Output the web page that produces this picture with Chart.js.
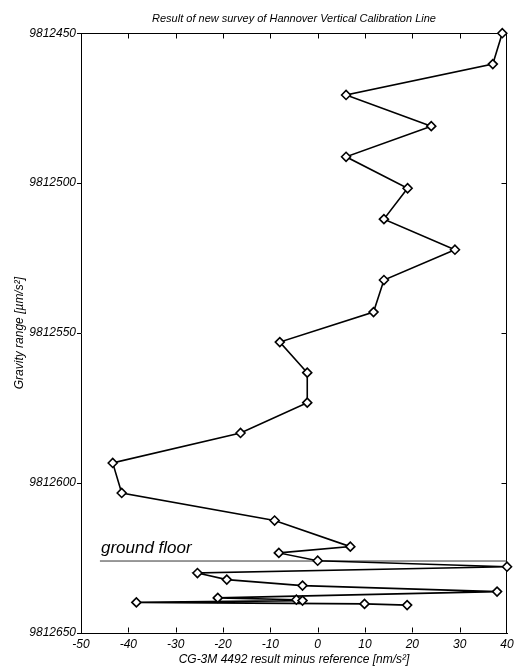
<!DOCTYPE html>
<html lang="en">
<head>
<meta charset="UTF-8">
<title>Hannover Vertical Calibration Line</title>
<script src="https://cdn.jsdelivr.net/npm/chart.js"></script>
<style>
  body { margin: 0; background: #fff; }
  canvas { display: block; }
</style>
</head>
<body>
<canvas id="chart" width="515" height="668"></canvas>
<script>
  // CG-3M 4492 result minus reference [nm/s^2], stations from top to bottom
  const deviation = [39, 37, 6, 24, 6, 19, 14, 29, 14, 11.8, -8, -2.2, -2.2, -16.3, -43.3, -41.4,
    -9.1, 6.9, -8.2, 0, 40, -25.4, -19.2, -3.2, 37.9, -21.1, -4.5, -3.2, -38.3, 9.9, 18.9];
  // gravity range [um/s^2] of each station
  const gravity = [9812450, 9812460.3, 9812470.6, 9812481, 9812491.2, 9812501.7, 9812512, 9812522.2,
    9812532.3, 9812543, 9812553, 9812563.2, 9812573.2, 9812583.3, 9812593.3, 9812603.3, 9812612.5,
    9812621.2, 9812623.3, 9812625.9, 9812627.9, 9812630, 9812632.2, 9812634.2, 9812636.2, 9812638.3,
    9812638.9, 9812639.2, 9812639.8, 9812640.3, 9812640.7];
  // ground floor marker
  const groundFloorLevel = 9812626;
  const groundFloorSpan = [-46, 40];
  const groundFloorLabel = 'ground floor';
  // axis ticks
  const xTicks = [-50, -40, -30, -20, -10, 0, 10, 20, 30, 40];
  const yTicks = [9812450, 9812500, 9812550, 9812600, 9812650];

  const FONT = '"Liberation Sans", Arial, sans-serif';
  Chart.defaults.font.family = FONT;
  Chart.defaults.color = '#000';

  const surveyPoints = deviation.map((d, i) => ({ x: d, y: gravity[i] }));
  const groundPoints = groundFloorSpan.map(x => ({ x: x, y: groundFloorLevel }));

  // top/right frame lines and inward tick marks like the original plot
  const framePlugin = {
    id: 'frame',
    beforeDatasetsDraw(chart) {
      const { ctx, chartArea: a, scales } = chart;
      const L = 5;
      ctx.save();
      ctx.strokeStyle = '#000';
      ctx.lineWidth = 1;
      ctx.beginPath();
      const top = Math.round(a.top) + 0.5, right = Math.round(a.right) - 0.5, bottom = Math.round(a.bottom) - 0.5;
      ctx.moveTo(a.left, top); ctx.lineTo(right, top); ctx.lineTo(right, a.bottom);
      scales.x.ticks.forEach((t, i) => {
        if (i === 0 || i === scales.x.ticks.length - 1) return;
        const px = Math.round(scales.x.getPixelForValue(t.value)) + 0.5;
        ctx.moveTo(px, top); ctx.lineTo(px, top + L);
        ctx.moveTo(px, bottom); ctx.lineTo(px, bottom - L);
      });
      scales.y.ticks.forEach((t, i) => {
        if (i === 0 || i === scales.y.ticks.length - 1) return;
        const py = Math.round(scales.y.getPixelForValue(t.value)) + 0.5;
        ctx.moveTo(right, py); ctx.lineTo(right - L, py);
      });
      ctx.stroke();
      ctx.restore();
    },
    afterDatasetsDraw(chart) {
      const { ctx, scales } = chart;
      ctx.save();
      ctx.font = 'italic 17px ' + FONT;
      ctx.fillStyle = '#000';
      ctx.textBaseline = 'alphabetic';
      ctx.fillText(groundFloorLabel, scales.x.getPixelForValue(groundFloorSpan[0]) + 1,
        scales.y.getPixelForValue(groundFloorLevel) - 8);
      ctx.restore();
    }
  };

  new Chart(document.getElementById('chart'), {
    type: 'scatter',
    data: {
      datasets: [{
        data: surveyPoints,
        showLine: true,
        borderColor: '#000',
        borderWidth: 1.6,
        pointStyle: 'rectRot',
        pointRadius: 4.5,
        pointBackgroundColor: '#fff',
        pointBorderColor: '#000',
        pointBorderWidth: 1.6,
        clip: false,
        order: 1
      }, {
        data: groundPoints,
        showLine: true,
        borderColor: '#333',
        borderWidth: 1,
        pointRadius: 0,
        order: 2
      }]
    },
    options: {
      responsive: false,
      animation: false,
      layout: { padding: { left: 0, right: 8, top: 0, bottom: 0 } },
      plugins: {
        legend: { display: false },
        tooltip: { enabled: false },
        title: {
          display: true,
          fullSize: false,
          text: 'Result of new survey of Hannover Vertical Calibration Line',
          font: { size: 11, style: 'italic', weight: 'normal' },
          color: '#000',
          padding: { top: 12, bottom: 8 }
        }
      },
      scales: {
        x: {
          type: 'linear',
          min: xTicks[0],
          max: xTicks[xTicks.length - 1],
          ticks: { stepSize: xTicks[1] - xTicks[0], font: { size: 12, style: 'italic' }, padding: 4, maxRotation: 0, autoSkip: false },
          grid: { drawOnChartArea: false, drawTicks: false },
          border: { color: '#000', width: 1 },
          title: {
            display: true,
            text: 'CG-3M 4492 result minus reference [nm/s²]',
            font: { size: 12, style: 'italic' },
            padding: { top: 0, bottom: 1 }
          },
          afterFit(scale) {
            scale.height = 35;
            scale.paddingLeft = 0;
            scale.paddingRight = 0;
          }
        },
        y: {
          type: 'linear',
          reverse: true,
          min: yTicks[0],
          max: yTicks[yTicks.length - 1],
          ticks: { stepSize: yTicks[1] - yTicks[0], font: { size: 12, style: 'italic' }, padding: 1, callback: v => String(v) },
          grid: { drawOnChartArea: false, drawTicks: true, tickLength: 4, color: '#000' },
          border: { color: '#000', width: 1 },
          title: {
            display: true,
            text: 'Gravity range [µm/s²]',
            font: { size: 12, style: 'italic' },
            padding: { top: 12, bottom: 0 }
          },
          afterFit(scale) {
            scale.width = 81;
            scale.paddingTop = 0;
            scale.paddingBottom = 0;
          }
        }
      }
    },
    plugins: [framePlugin]
  });
</script>
</body>
</html>
